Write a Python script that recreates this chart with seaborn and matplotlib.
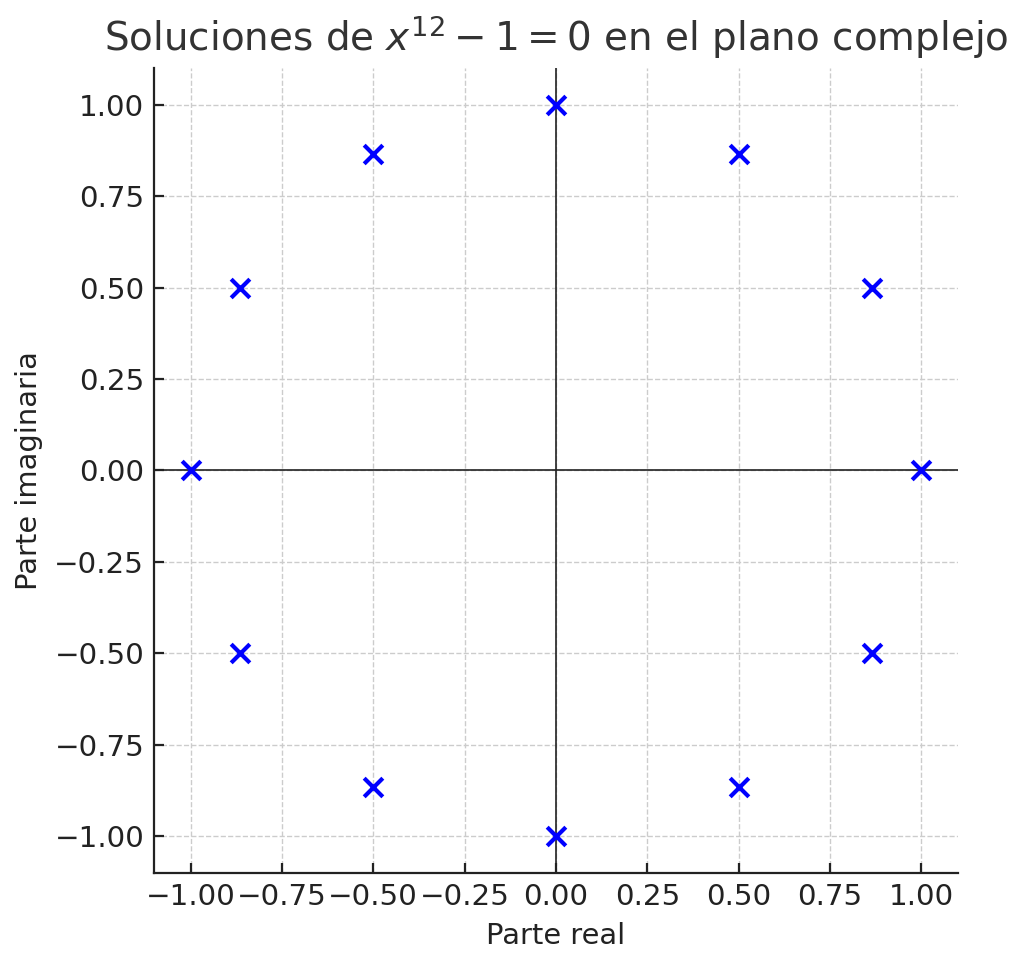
import numpy as np
import pandas as pd
import matplotlib
matplotlib.use('Agg')
import matplotlib.pyplot as plt
import seaborn as sns

# 12 raices de la unidad
real = [1.0, 0.866, 0.5, 0.0, -0.5, -0.866, -1.0, -0.866, -0.5, 0.0, 0.5, 0.866]
imag = [0.0, 0.5, 0.866, 1.0, 0.866, 0.5, 0.0, -0.5, -0.866, -1.0, -0.866, -0.5]
ticks = [-1.0, -0.75, -0.5, -0.25, 0.0, 0.25, 0.5, 0.75, 1.0]

df = pd.DataFrame({'real': real, 'imag': imag})

sns.set_style('ticks')
plt.rcParams['font.family'] = ['DejaVu Sans']
plt.rcParams['text.color'] = '#333333'
plt.rcParams['axes.labelcolor'] = '#222222'
plt.rcParams['xtick.color'] = '#222222'
plt.rcParams['ytick.color'] = '#222222'
plt.rcParams['axes.unicode_minus'] = True

fig = plt.figure(figsize=(5.12, 4.835), dpi=200)
ax = fig.add_axes([0.1504, 0.0972, 0.7851, 0.8325])

ax.axhline(0, color='#222222', linewidth=0.6, zorder=1)
ax.axvline(0, color='#222222', linewidth=0.6, zorder=1)
sns.scatterplot(data=df, x='real', y='imag', marker='x', color='blue',
                s=45, linewidth=1.5, ax=ax, zorder=3)

ax.set_xlim(-1.1, 1.1)
ax.set_ylim(-1.1, 1.1)
ax.set_xticks(ticks)
ax.set_yticks(ticks)
ax.grid(True, linestyle='--', color='#cccccc', linewidth=0.5)
ax.set_axisbelow(True)

ax.set_title(r'Soluciones de $x^{12} - 1 = 0$ en el plano complejo', fontsize=14, color='#333333')
ax.set_xlabel('Parte real', fontsize=10.4)
ax.set_ylabel('Parte imaginaria', fontsize=10.4)
ax.tick_params(labelsize=10.6, width=0.8, length=3.5, direction='in', color='#222222')
for side in ['top', 'right']:
    ax.spines[side].set_visible(False)
for side in ['left', 'bottom']:
    ax.spines[side].set_linewidth(0.8)
    ax.spines[side].set_color('#222222')

fig.savefig('out.png', dpi=200)
